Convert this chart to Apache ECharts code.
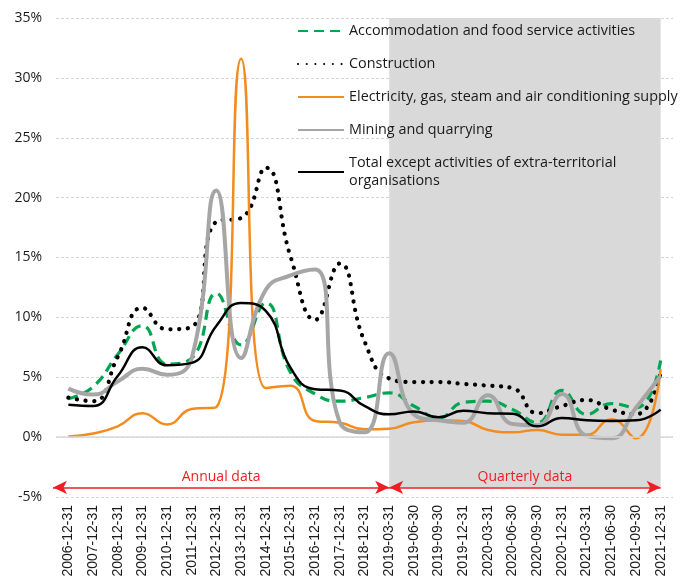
<!DOCTYPE html>
<html>
<head>
<meta charset="utf-8">
<script src="https://cdn.jsdelivr.net/npm/echarts@6/dist/echarts.min.js"></script>
<style>
html,body{margin:0;padding:0;background:#fff;}
#chart{width:687px;height:583px;}
</style>
</head>
<body>
<div id="chart"></div>
<script>
const categories = ['2006-12-31','2007-12-31','2008-12-31','2009-12-31','2010-12-31','2011-12-31','2012-12-31','2013-12-31','2014-12-31','2015-12-31','2016-12-31','2017-12-31','2018-12-31','2019-03-31','2019-06-30','2019-09-30','2019-12-31','2020-03-31','2020-06-30','2020-09-30','2020-12-31','2021-03-31','2021-06-30','2021-09-30','2021-12-31'];
const seriesNames = ['Accommodation and food service activities','Construction','Electricity, gas, steam and air conditioning supply','Mining and quarrying','Total except activities of extra-territorial\norganisations'];
const accommodation = [3.2,4.2,6.9,9.3,6.1,6.6,12.0,7.7,11.2,5.4,3.6,3.0,3.3,3.7,2.6,1.6,2.9,3.0,2.3,1.2,3.9,1.9,2.8,2.45,6.4];
const construction = [3.3,3.0,6.7,10.8,9.0,9.2,18.0,18.3,22.5,15.1,9.8,14.5,8.0,4.9,4.6,4.6,4.45,4.3,4.1,2.0,2.6,3.1,2.3,1.9,5.4];
const electricity = [0.05,0.3,0.9,2.0,1.05,2.35,2.5,31.6,4.1,4.3,1.35,1.2,0.65,0.7,1.25,1.4,1.35,0.6,0.4,0.6,0.2,0.2,1.5,-0.1,5.65];
const mining = [4.05,3.55,4.65,5.7,5.2,6.6,20.6,6.6,12.3,13.5,14.0,1.2,0.4,7.0,1.9,1.4,1.2,3.5,1.1,1.0,3.6,0.1,-0.1,2.45,5.1];
const total = [2.7,2.6,5.1,7.5,6.0,6.2,9.3,11.2,10.55,5.8,4.0,3.9,2.6,1.9,2.15,1.65,2.2,2.0,1.95,0.9,1.6,1.4,1.35,1.4,2.3];
const yTicks = {min:-5, max:35, interval:5};
const annotations = {annual:'Annual data', quarterly:'Quarterly data', level:-4.2, split:'2019-03-31'};

const chart = echarts.init(document.getElementById('chart'), null, {renderer:'canvas'});
const txt = '#1a1a1a';
const red = '#EE1D23';
const font = 'Open Sans';
const gridLeft = 56;
const base = {type:'line', symbol:'none', smooth:0.5, animation:false};
const arrowLine = {
  silent:true, symbol:['arrow','arrow'], symbolSize:[10,14], animation:false,
  lineStyle:{color:red, width:1.5, type:'solid'},
  label:{show:true, position:'middle', color:red, fontFamily:font, fontSize:14, distance:3},
  data:[
    [{coord:[categories[0], annotations.level], name:annotations.annual},{coord:[annotations.split, annotations.level]}],
    [{coord:[annotations.split, annotations.level], name:annotations.quarterly},{coord:[categories[categories.length-1], annotations.level]}]
  ]
};
const option = {
  animation:false,
  backgroundColor:'#fff',
  grid:{left:gridLeft, right:14, top:18, bottom:86},
  legend:{
    orient:'vertical', left:292, top:17, itemWidth:46, itemHeight:14, itemGap:15,
    itemStyle:{color:'transparent', borderColor:'transparent', borderWidth:0},
    textStyle:{fontFamily:font, fontSize:14.4, color:txt, lineHeight:18},
    data:seriesNames
  },
  xAxis:{
    type:'category', data:categories, boundaryGap:true,
    axisLine:{show:false, onZero:false}, axisTick:{show:false},
    axisLabel:{rotate:90, interval:0, fontFamily:'Liberation Sans', fontSize:14, color:txt, margin:8}
  },
  yAxis:{
    type:'value', min:yTicks.min, max:yTicks.max, interval:yTicks.interval,
    axisLine:{show:false}, axisTick:{show:false},
    axisLabel:{formatter:'{value}%', fontFamily:font, fontSize:14, color:txt, margin:14},
    splitLine:{lineStyle:{color:'#d4d4d4', type:[3,2], width:1}}
  },
  series:[
    Object.assign({}, base, {
      name:seriesNames[0], data:accommodation, z:3,
      lineStyle:{color:'#00A651', width:3.2, type:[10,6]}, itemStyle:{color:'#00A651'},
      markArea:{silent:true, itemStyle:{color:'#D9D9D9', opacity:1},
        data:[[{coord:[annotations.split, yTicks.max]},{coord:[categories[categories.length-1], annotations.level]}]]}
    }),
    Object.assign({}, base, {
      name:seriesNames[1], data:construction, z:3,
      lineStyle:{color:'#000', width:4.2, type:[0.1,8.6], cap:'round'}, itemStyle:{color:'#000'}
    }),
    Object.assign({}, base, {
      name:seriesNames[2], data:electricity, z:3,
      lineStyle:{color:'#F28C1E', width:2.5}, itemStyle:{color:'#F28C1E'}
    }),
    Object.assign({}, base, {
      name:seriesNames[3], data:mining, z:3,
      lineStyle:{color:'#A6A6A6', width:4}, itemStyle:{color:'#A6A6A6'}
    }),
    Object.assign({}, base, {
      name:seriesNames[4], data:total, z:4,
      lineStyle:{color:'#000', width:2.5}, itemStyle:{color:'#000'},
      markLine:arrowLine
    }),
    {
      type:'line', name:'zero', data:[], silent:true, z:1,
      markLine:{silent:true, symbol:['none','none'], label:{show:false},
        lineStyle:{color:'#d9d9d9', width:1.5, type:'solid'},
        data:[{yAxis:0}]}
    }
  ]
};
chart.setOption(option);
// extend the annual arrow to the left edge of the plot area
const py = chart.convertToPixel({gridIndex:0}, [categories[0], annotations.level])[1];
arrowLine.data[0][0] = {x:gridLeft - 3, y:py, name:annotations.annual};
chart.setOption({series:[{},{},{},{},{markLine:arrowLine},{}]});
</script>
</body>
</html>
